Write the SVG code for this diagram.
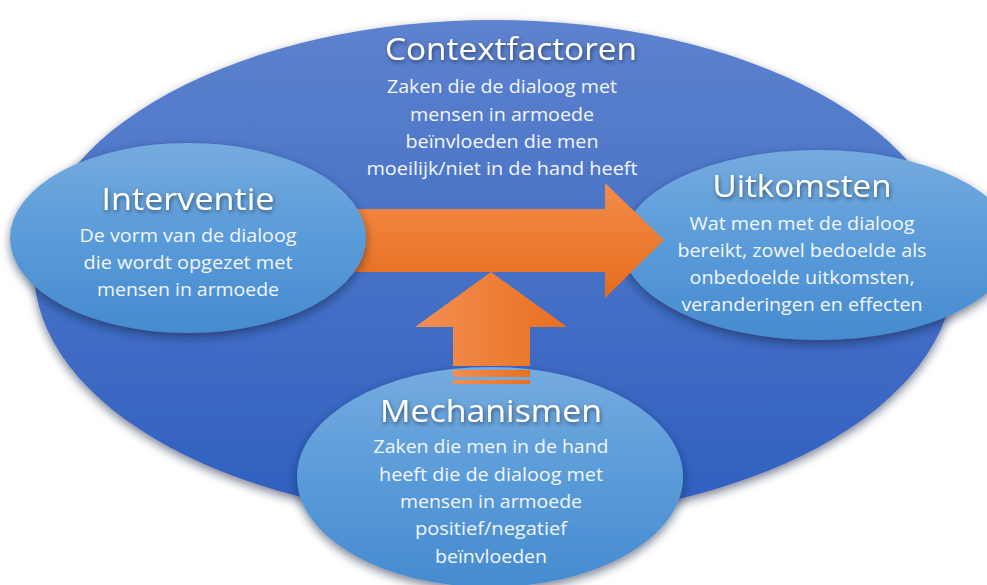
<svg xmlns="http://www.w3.org/2000/svg" width="987" height="585" viewBox="0 0 987 585">
<defs>
<linearGradient id="gBig" x1="0" y1="0" x2="0" y2="1">
<stop offset="0" stop-color="#5d82ce"/>
<stop offset="1" stop-color="#2f5fbf"/>
</linearGradient>
<linearGradient id="gSmall" x1="0" y1="0" x2="0" y2="1">
<stop offset="0" stop-color="#75abdf"/>
<stop offset="0.5" stop-color="#5a9bd9"/>
<stop offset="1" stop-color="#468bd0"/>
</linearGradient>
<linearGradient id="gH" x1="0" y1="0" x2="0" y2="1">
<stop offset="0" stop-color="#f38d4a"/>
<stop offset="1" stop-color="#e66b1a"/>
</linearGradient>
<linearGradient id="gV" x1="0" y1="0" x2="1" y2="0">
<stop offset="0" stop-color="#f28f53"/>
<stop offset="1" stop-color="#e9701e"/>
</linearGradient>
<filter id="shadow" x="-20%" y="-20%" width="140%" height="150%">
<feDropShadow dx="0" dy="4" stdDeviation="5" flood-color="#0a1a40" flood-opacity="0.55"/>
</filter>
<filter id="tshadow" x="-10%" y="-30%" width="120%" height="160%">
<feDropShadow dx="1" dy="2" stdDeviation="2" flood-color="#000" flood-opacity="0.5"/>
</filter>
</defs>
<style>
.title{font-family:"Open Sans","Noto Sans",sans-serif;font-size:31px;fill:#ffffff;text-anchor:middle;}
.body{font-family:"Open Sans","Noto Sans",sans-serif;font-size:19px;fill:#f2f6fb;text-anchor:middle;}
.small{fill:url(#gSmall);filter:url(#shadow);}
</style>
<rect width="987" height="585" fill="#ffffff"/>
<g id="contextfactoren">
<ellipse cx="494" cy="270" rx="460" ry="250" fill="url(#gBig)" filter="url(#shadow)"/>
<text class="title" x="511" y="60" filter="url(#tshadow)" textLength="252" lengthAdjust="spacingAndGlyphs">Contextfactoren</text>
<text class="body" x="502" y="93" textLength="230" lengthAdjust="spacingAndGlyphs">Zaken die de dialoog met</text>
<text class="body" x="502" y="121" textLength="184" lengthAdjust="spacingAndGlyphs">mensen in armoede</text>
<text class="body" x="502" y="148" textLength="193" lengthAdjust="spacingAndGlyphs">beïnvloeden die men</text>
<text class="body" x="502" y="175" textLength="271" lengthAdjust="spacingAndGlyphs">moeilijk/niet in de hand heeft</text>
</g>
<g id="uitkomsten">
<ellipse class="small" cx="818" cy="245" rx="196" ry="95"/>
<text class="title" x="802" y="197" filter="url(#tshadow)" textLength="179" lengthAdjust="spacingAndGlyphs">Uitkomsten</text>
<text class="body" x="802" y="230" textLength="225" lengthAdjust="spacingAndGlyphs">Wat men met de dialoog</text>
<text class="body" x="802" y="257" textLength="249" lengthAdjust="spacingAndGlyphs">bereikt, zowel bedoelde als</text>
<text class="body" x="802" y="284" textLength="225" lengthAdjust="spacingAndGlyphs">onbedoelde uitkomsten,</text>
<text class="body" x="802" y="311" textLength="241" lengthAdjust="spacingAndGlyphs">veranderingen en effecten</text>
</g>
<g id="mechanismen">
<ellipse class="small" cx="490" cy="477" rx="193" ry="110"/>
<text class="title" x="491" y="422" filter="url(#tshadow)" textLength="222" lengthAdjust="spacingAndGlyphs">Mechanismen</text>
<text class="body" x="491" y="453" textLength="235" lengthAdjust="spacingAndGlyphs">Zaken die men in de hand</text>
<text class="body" x="491" y="481" textLength="224" lengthAdjust="spacingAndGlyphs">heeft die de dialoog met</text>
<text class="body" x="491" y="508" textLength="182" lengthAdjust="spacingAndGlyphs">mensen in armoede</text>
<text class="body" x="491" y="535" textLength="152" lengthAdjust="spacingAndGlyphs">positief/negatief</text>
<text class="body" x="491" y="563" textLength="112" lengthAdjust="spacingAndGlyphs">beïnvloeden</text>
</g>
<g id="connectors">
<polygon points="300,209 605,209 605,183 664,240 605,298 605,272 300,272" fill="url(#gH)"/>
<polygon points="491,272 567,327 530,327 530,366 453,366 453,327 415,327" fill="url(#gV)"/>
<rect x="453" y="370" width="77" height="7" fill="url(#gV)"/>
<rect x="453" y="380" width="77" height="4" fill="url(#gV)"/>
</g>
<g id="interventie">
<ellipse class="small" cx="188" cy="238" rx="178" ry="95"/>
<text class="title" x="188" y="210" filter="url(#tshadow)" textLength="173" lengthAdjust="spacingAndGlyphs">Interventie</text>
<text class="body" x="188" y="242" textLength="217" lengthAdjust="spacingAndGlyphs">De vorm van de dialoog</text>
<text class="body" x="188" y="269" textLength="209" lengthAdjust="spacingAndGlyphs">die wordt opgezet met</text>
<text class="body" x="188" y="296" textLength="182" lengthAdjust="spacingAndGlyphs">mensen in armoede</text>
</g>
</svg>
